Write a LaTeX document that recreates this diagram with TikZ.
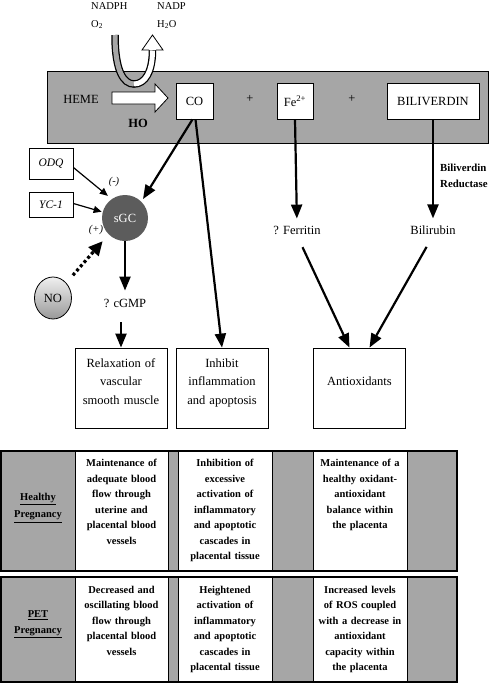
\documentclass[tikz,border=0pt]{standalone}
\usepackage{fontspec}
\setmainfont{Liberation Serif}
\usetikzlibrary{arrows.meta,positioning,shapes.geometric}

\definecolor{bandgray}{RGB}{166,166,166}
\definecolor{sgcgray}{RGB}{92,92,92}

\tikzset{
  txt/.style={font=\fontsize{12.5}{15}\selectfont, inner sep=1pt},
  small/.style={font=\fontsize{10.5}{13}\selectfont, inner sep=0pt},
  molbox/.style={draw, thick, fill=white, minimum height=36, inner sep=3pt, font=\fontsize{12.5}{15}\selectfont},
  drugbox/.style={draw, thick, fill=white, minimum width=44, inner sep=2pt, font=\fontsize{11.5}{14}\itshape},
  effectbox/.style={draw, thick, fill=white, minimum width=92, minimum height=80, text width=88, align=center, inner sep=2pt, font=\fontsize{12.5}{18.5}\selectfont},
  celltext/.style={anchor=north, text width=90, align=center, inner sep=0pt, font=\fontsize{10.5}{15.5}\selectfont\bfseries},
  flow/.style={line width=2.2pt, -{Triangle[length=14pt,width=11pt]}},
  inh/.style={line width=1.2pt, -{Triangle[length=8pt,width=7pt]}},
  dotflow/.style={line width=3.2pt, dash pattern=on 3pt off 2.6pt, -{Triangle[length=14pt,width=13pt]}},
}

\begin{document}
\begin{tikzpicture}[x=1pt, y=-1pt]
  \useasboundingbox (0,0) rectangle (489,683);

  % cofactors
  \node[small, anchor=base west] (nadph) at (91,9) {NADPH};
  \node[small, anchor=base west] (otwo) at (91,27) {O\textsubscript{2}};
  \node[small, anchor=base west] (nadp) at (157,9) {NADP};
  \node[small, anchor=base west] (water) at (157,27) {H\textsubscript{2}O};

  % HO band
  \draw[thick, fill=bandgray] (47,71) rectangle (488,143);

  % curved cofactor arrow
  \draw[line width=7.5pt] (115,35) .. controls (115,72) and (124,84) .. (134,84)
        .. controls (145,84) and (152.5,72) .. (152.5,50);
  \draw[line width=5pt, bandgray] (115,35) .. controls (115,72) and (124,84) .. (134,84);
  \draw[line width=5pt, white] (134,84) .. controls (145,84) and (152.5,72) .. (152.5,50.5);
  \filldraw[thick, fill=white] (149,50) -- (142,50) -- (152.5,35) -- (163,50) -- (156,50);

  % HEME -> products
  \node[txt] (heme) at (81,99) {HEME};
  \filldraw[thick, fill=white] (112,92) -- (155,92) -- (155,84) -- (168,98) -- (155,112) -- (155,104) -- (112,104) -- cycle;
  \node[txt, font=\fontsize{12.5}{15}\bfseries] (ho) at (138,123) {HO};
  \node[molbox, minimum width=37] (co) at (194.5,101) {CO};
  \node[txt] (plusa) at (250,99) {+};
  \node[molbox, minimum width=36] (fe) at (295,101) {Fe\textsuperscript{2+}};
  \node[txt] (plusb) at (352,99) {+};
  \node[molbox, minimum width=92] (bili) at (433,101) {BILIVERDIN};

  % sGC pathway
  \node[circle, fill=sgcgray, minimum size=46, inner sep=0pt, text=white, font=\fontsize{12.5}{15}\selectfont] (sgc) at (125,218) {sGC};
  \node[drugbox, minimum height=31] (odq) at (51,163.5) {ODQ};
  \node[drugbox, minimum height=25] (yc) at (51,204.5) {YC-1};
  \node[ellipse, draw, thick, top color=gray!12, bottom color=gray!80, minimum width=37, minimum height=42, inner sep=0pt, font=\fontsize{12.5}{15}\selectfont] (no) at (53,298) {NO};
  \node[txt] (cgmp) at (125,303) {? cGMP};
  \node[small, font=\fontsize{10.5}{13}\itshape] (minus) at (114,182) {(-)};
  \node[small, font=\fontsize{10.5}{13}\itshape] (plus) at (96,230) {(+)};

  % iron and bilirubin
  \node[txt] (ferritin) at (297,230) {? Ferritin};
  \node[txt] (bilirubin) at (433,230) {Bilirubin};
  \node[anchor=west, align=left, inner sep=0pt, font=\fontsize{10.8}{16}\bfseries] (reductase) at (440,176) {Biliverdin\\Reductase};

  % effects
  \node[effectbox, text depth=50pt] (relax) at (121,388) {Relaxation of\\vascular\\smooth muscle};
  \node[effectbox, text depth=50pt] (inhibit) at (222,388) {Inhibit\\inflammation\\and apoptosis};
  \node[effectbox, text depth=13pt] (antiox) at (359.5,388) {Antioxidants};

  % connectors
  \draw[flow, shorten >=3pt] ([xshift=-2pt]co.south) -- (sgc.north east);
  \draw[flow] ([xshift=1pt]co.south) -- (inhibit.north);
  \draw[flow, shorten >=6pt] (fe.south) -- (ferritin.north);
  \draw[flow, shorten >=6pt] (bili.south) -- (bilirubin.north);
  \draw[flow, shorten <=13pt] (ferritin.south) -- ([xshift=-10pt]antiox.north);
  \draw[flow, shorten <=13pt] (bilirubin.south) -- ([xshift=10pt]antiox.north);
  \draw[flow, shorten >=7pt] (sgc.south) -- (cgmp.north);
  \draw[flow, shorten <=14pt] (cgmp.south -| relax.north) -- (relax.north);
  \draw[inh, shorten >=5pt] ([yshift=-4pt]odq.east) -- (sgc.125);
  \draw[inh, shorten >=1pt] ([yshift=1pt]yc.east) -- (sgc.165);
  \draw[dotflow, shorten <=10pt, shorten >=9pt] (no) -- (sgc.225);

  % table: healthy pregnancy
  \foreach \xa/\xb/\col in {1/75/bandgray, 75/168/white, 168/178/bandgray, 178/272/white, 272/313/bandgray, 313/407/white, 407/457/bandgray}
    \draw[fill=\col, thin] (\xa,451) rectangle (\xb,571);
  \draw[line width=1.6pt] (1,451) rectangle (457,571);
  \node[align=center, inner sep=0pt, font=\fontsize{10.5}{17}\bfseries] (healthy) at (38,508) {\underline{Healthy}\\\underline{Pregnancy}};
  \node[celltext] (hflow) at (121.5,459) {Maintenance of\\adequate blood\\flow through\\uterine and\\placental blood\\vessels};
  \node[celltext] (hinfl) at (225,459) {Inhibition of\\excessive\\activation of\\inflammatory\\and apoptotic\\cascades in\\placental tissue};
  \node[celltext] (hox) at (360,459) {Maintenance of a\\healthy oxidant-\\antioxidant\\balance within\\the placenta};

  % table: PET pregnancy
  \foreach \xa/\xb/\col in {1/75/bandgray, 75/168/white, 168/178/bandgray, 178/272/white, 272/313/bandgray, 313/407/white, 407/457/bandgray}
    \draw[fill=\col, thin] (\xa,577) rectangle (\xb,682);
  \draw[line width=1.6pt] (1,577) rectangle (457,682);
  \node[align=center, inner sep=0pt, font=\fontsize{10.5}{15.5}\bfseries] (pet) at (38,624) {\underline{PET}\\\underline{Pregnancy}};
  \node[celltext] (pflow) at (121.5,586) {Decreased and\\oscillating blood\\flow through\\placental blood\\vessels};
  \node[celltext] (pinfl) at (225,586) {Heightened\\activation of\\inflammatory\\and apoptotic\\cascades in\\placental tissue};
  \node[celltext] (pox) at (360,586) {Increased levels\\of ROS coupled\\with a decrease in\\antioxidant\\capacity within\\the placenta};
\end{tikzpicture}
\end{document}
